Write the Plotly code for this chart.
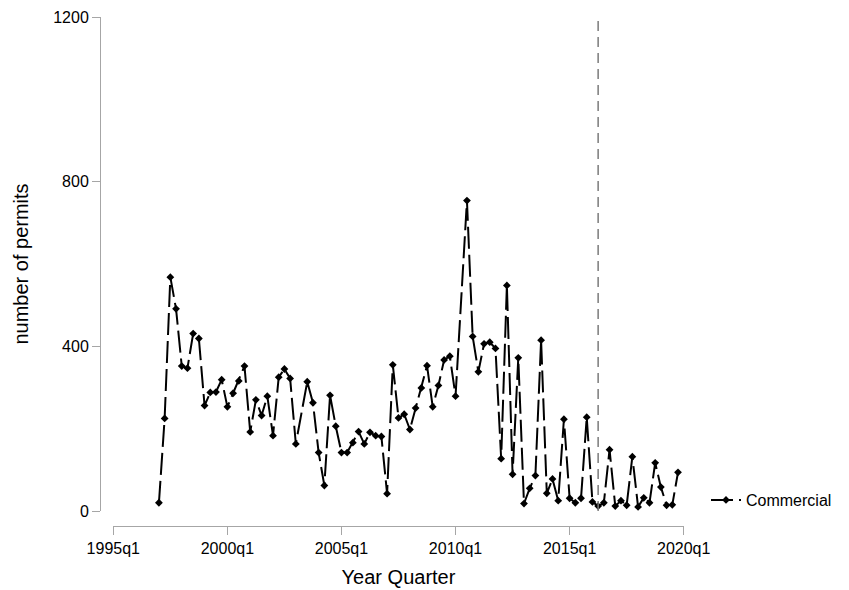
import plotly.graph_objects as go

# Quarterly commercial permit counts, 1997q1 .. 2019q4 (None = not reported)
start_year = 1997
commercial = [
    20, 225, 568, 491, 352, 347, 431, 419,
    256, 288, 289, 319, 253, 286, 316, 352,
    192, 270, 232, 279, 183, 325, 345, 322,
    163, None, 314, 263, 142, 62, 281, 206,
    142, 142, 166, 193, 163, 191, 183, 181,
    42, 355, 226, 235, 198, 250, 299, 353,
    253, 305, 367, 376, 279, None, 754, 424,
    338, 406, 410, 395, 127, 548, 89, 372,
    18, 55, 86, 415, 43, 78, 25, 223,
    31, 20, 31, 228, 22, 12, 20, 149,
    12, 25, 14, 132, 10, 32, 20, 117,
    58, 14, 15, 94,
]
tick_labels = ["1995q1", "2000q1", "2005q1", "2010q1", "2015q1", "2020q1"]
y_ticks = [0, 400, 800, 1200]
marker_quarter = "2016q2"


def quarter_index(label):
    """Quarters elapsed since 1995q1."""
    year, q = label.split("q")
    return (int(year) - 1995) * 4 + int(q) - 1


first = quarter_index(f"{start_year}q1")
x_vals = [first + i for i in range(len(commercial))]
tick_vals = [quarter_index(t) for t in tick_labels]

FONT = "Liberation Sans, Arial, sans-serif"
AXIS_GREY = "#a6a6a6"

fig = go.Figure()
fig.add_trace(go.Scatter(
    x=x_vals,
    y=commercial,
    mode="lines+markers",
    name="Commercial",
    connectgaps=True,
    cliponaxis=False,
    line=dict(color="black", width=2, dash="22px,6px"),
    marker=dict(symbol="diamond", size=6, color="black"),
))

fig.add_shape(
    type="line", xref="x", yref="y",
    x0=quarter_index(marker_quarter), x1=quarter_index(marker_quarter),
    y0=0, y1=1200,
    line=dict(color="#7a7a7a", width=1.5, dash="10px,6px"),
)

W, H = 849, 590
ml, mr, mt, mb = 100, 149, 17, 64
pw, ph = W - ml - mr, H - mt - mb
bottom_px = H - mb  # pixel row of paper y = 0

fig.update_layout(
    width=W, height=H,
    margin=dict(l=ml, r=mr, t=mt, b=mb, pad=0),
    paper_bgcolor="white",
    plot_bgcolor="white",
    font=dict(family=FONT, color="black", size=16),
    showlegend=True,
    legend=dict(
        x=(706 - ml) / pw, xanchor="left",
        y=(bottom_px - 500) / ph, yanchor="middle",
        font=dict(size=16, family=FONT),
        bgcolor="rgba(0,0,0,0)",
    ),
    xaxis=dict(
        range=[tick_vals[0], tick_vals[-1]],
        domain=[13.3 / pw, 583.7 / pw],
        anchor="free", position=0,
        tickvals=tick_vals, ticktext=tick_labels,
        showline=True, linecolor=AXIS_GREY, linewidth=1,
        ticks="outside", ticklen=8, tickcolor=AXIS_GREY, tickwidth=1,
        showgrid=False, zeroline=False,
        tickfont=dict(size=16),
        title=dict(text="Year Quarter", font=dict(size=20), standoff=13),
        automargin=False,
    ),
    yaxis=dict(
        range=[0, 1200],
        domain=[15 / ph, 1],
        anchor="free", position=0,
        tickvals=y_ticks,
        showline=True, linecolor=AXIS_GREY, linewidth=1,
        ticks="outside", ticklen=8, tickcolor=AXIS_GREY, tickwidth=1,
        showgrid=False, zeroline=False,
        tickfont=dict(size=16),
        title=dict(text="number of permits", font=dict(size=20), standoff=18),
        automargin=False,
    ),
)

fig.write_html("out.html")
